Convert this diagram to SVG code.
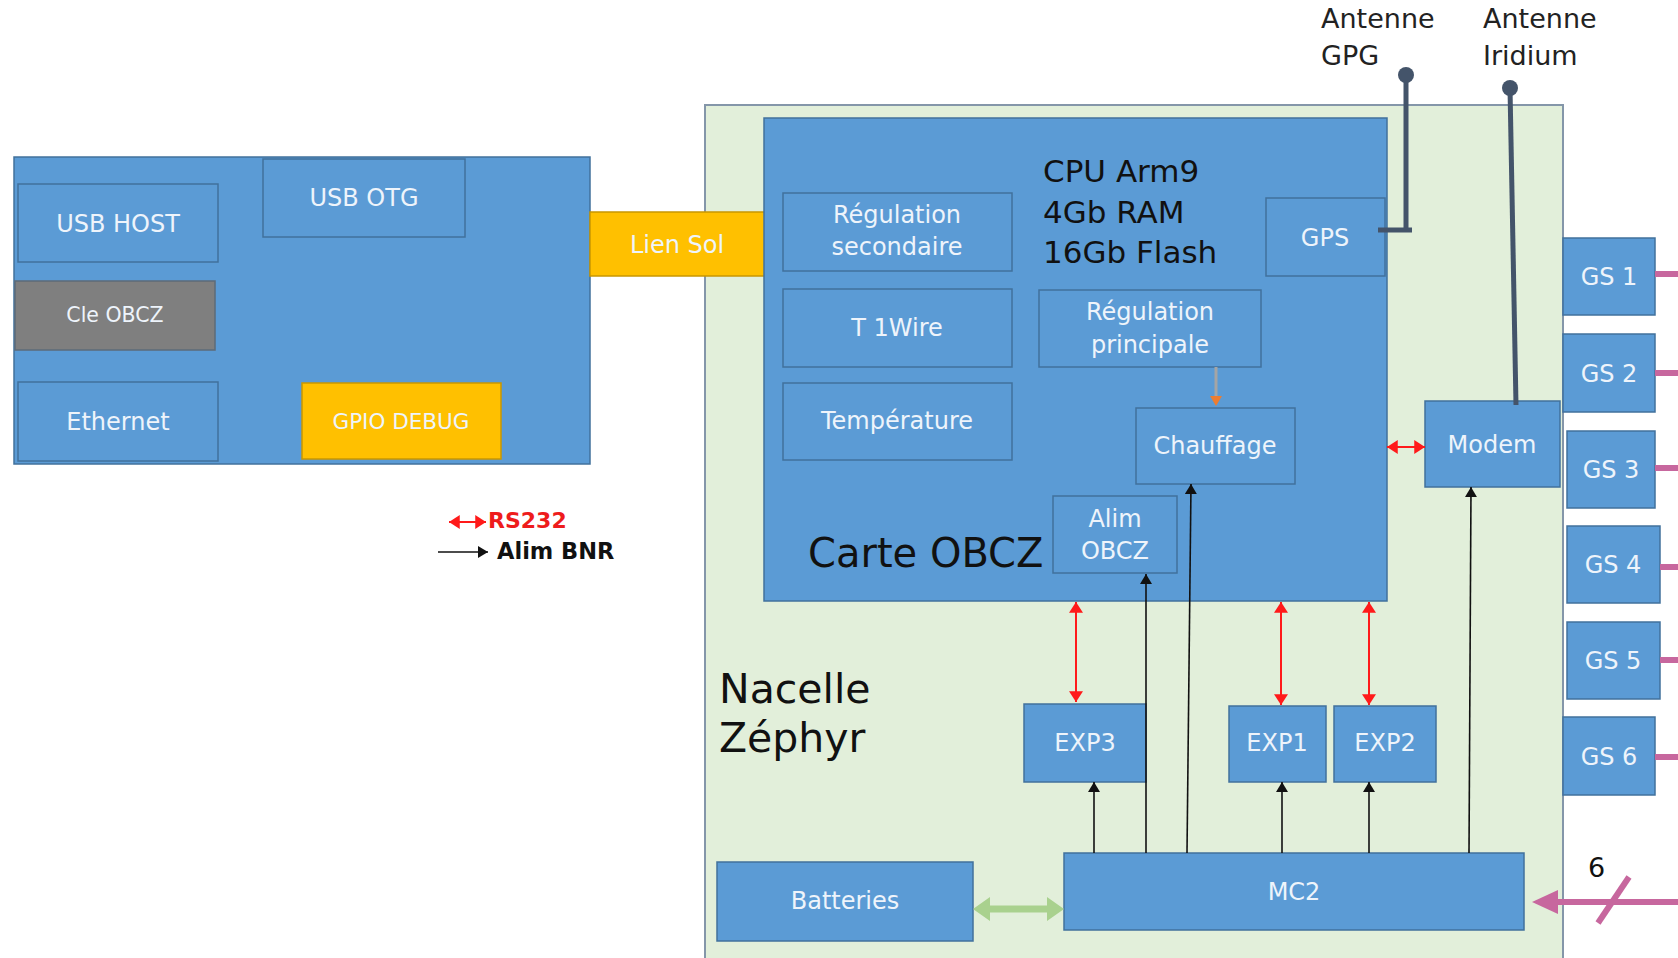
<svg xmlns="http://www.w3.org/2000/svg" width="1678" height="958" viewBox="0 0 1678 958">
  <defs>
    <style>
      .box { fill: #5b9bd5; stroke: #41719c; stroke-width: 1.5; }
      .yel { fill: #ffc000; stroke: #c99700; stroke-width: 1.5; }
      .gry { fill: #7f7f7f; stroke: #5d6b78; stroke-width: 1.5; }
      .lbl { font-family: "DejaVu Sans", "Liberation Sans", sans-serif; font-size: 24px; fill: #eef4fb; text-anchor: middle; }
      .dark { font-family: "DejaVu Sans", "Liberation Sans", sans-serif; fill: #111111; }
      .red { stroke: #ff1a1a; stroke-width: 2; fill: none; }
      .blk { stroke: #111111; stroke-width: 1.6; fill: none; }
      .ant { stroke: #44546a; stroke-width: 5; fill: none; }
      .pink { stroke: #c7679e; stroke-width: 6; fill: none; }
    </style>
    <marker id="hRed" viewBox="0 0 10 13" refX="10" refY="6.5" markerWidth="11" markerHeight="14" markerUnits="userSpaceOnUse" orient="auto-start-reverse">
      <path d="M0,0 L10,6.5 L0,13 z" fill="#ff1a1a"/>
    </marker>
    <marker id="hBlk" viewBox="0 0 10 12" refX="10" refY="6" markerWidth="10" markerHeight="12" markerUnits="userSpaceOnUse" orient="auto">
      <path d="M0,0 L10,6 L0,12 z" fill="#111111"/>
    </marker>
  </defs>

  <rect width="1678" height="958" fill="#ffffff"/>

  <!-- ground board -->
  <g id="board">
    <rect class="box" x="14" y="157" width="576" height="307"/>
  </g>
  <g id="usb-host">
    <rect class="box" x="18" y="184" width="200" height="78"/>
    <text class="lbl" x="118" y="232">USB HOST</text>
  </g>
  <g id="usb-otg">
    <rect class="box" x="263" y="159" width="202" height="78"/>
    <text class="lbl" x="364" y="206">USB OTG</text>
  </g>
  <g id="cle-obcz">
    <rect class="gry" x="15" y="281" width="200" height="69"/>
    <text class="lbl" x="115" y="322" style="font-size:20.5px">Cle OBCZ</text>
  </g>
  <g id="ethernet">
    <rect class="box" x="18" y="382" width="200" height="79"/>
    <text class="lbl" x="118" y="430">Ethernet</text>
  </g>
  <g id="gpio-debug">
    <rect class="yel" x="302" y="383" width="199" height="76"/>
    <text class="lbl" x="401" y="429" style="font-size:21.5px">GPIO DEBUG</text>
  </g>

  <!-- legend -->
  <g id="legend">
    <line class="red" x1="449" y1="522" x2="486" y2="522" marker-start="url(#hRed)" marker-end="url(#hRed)"/>
    <text class="dark" x="488" y="528" style="font-size:22px;font-weight:bold;fill:#ee1c1c">RS232</text>
    <line class="blk" x1="438" y1="552" x2="488" y2="552" marker-end="url(#hBlk)"/>
    <text class="dark" x="497" y="559" style="font-size:22.5px;font-weight:bold">Alim BNR</text>
  </g>

  <!-- gondola -->
  <g id="nacelle">
    <rect x="705" y="105" width="858" height="870" fill="#e2efda" stroke="#8496a9" stroke-width="2"/>
    <text class="dark" x="719" y="703" style="font-size:41px">Nacelle</text>
    <text class="dark" x="719" y="752" style="font-size:41px">Zéphyr</text>
  </g>

  <!-- ground link, drawn over the gondola edge -->
  <g id="lien-sol">
    <rect class="yel" x="590" y="212" width="175" height="64"/>
    <text class="lbl" x="677" y="253">Lien Sol</text>
  </g>

  <!-- OBCZ card -->
  <g id="carte-obcz">
    <rect class="box" x="764" y="118" width="623" height="483"/>
    <text class="dark" x="808" y="567" style="font-size:40px">Carte OBCZ</text>
    <text class="dark" x="1043" y="182" style="font-size:31px">CPU Arm9</text>
    <text class="dark" x="1043" y="223" style="font-size:31px">4Gb RAM</text>
    <text class="dark" x="1043" y="263" style="font-size:31px">16Gb Flash</text>
  </g>
  <g id="regulation-secondaire">
    <rect class="box" x="783" y="193" width="229" height="78"/>
    <text class="lbl" x="897" y="223">Régulation</text>
    <text class="lbl" x="897" y="255">secondaire</text>
  </g>
  <g id="t-1wire">
    <rect class="box" x="783" y="289" width="229" height="78"/>
    <text class="lbl" x="897" y="336">T 1Wire</text>
  </g>
  <g id="temperature">
    <rect class="box" x="783" y="383" width="229" height="77"/>
    <text class="lbl" x="897" y="429">Température</text>
  </g>
  <g id="regulation-principale">
    <rect class="box" x="1039" y="290" width="222" height="77"/>
    <text class="lbl" x="1150" y="320">Régulation</text>
    <text class="lbl" x="1150" y="353">principale</text>
  </g>
  <g id="gps">
    <rect class="box" x="1266" y="198" width="119" height="78"/>
    <text class="lbl" x="1325" y="246">GPS</text>
  </g>
  <g id="chauffage">
    <rect class="box" x="1136" y="408" width="159" height="76"/>
    <text class="lbl" x="1215" y="454">Chauffage</text>
  </g>
  <g id="alim-obcz">
    <rect class="box" x="1053" y="496" width="124" height="77"/>
    <text class="lbl" x="1115" y="527">Alim</text>
    <text class="lbl" x="1115" y="559">OBCZ</text>
  </g>
  <g id="modem">
    <rect class="box" x="1425" y="401" width="135" height="86"/>
    <text class="lbl" x="1492" y="453">Modem</text>
  </g>

  <!-- experiments, power and batteries -->
  <g id="exp3">
    <rect class="box" x="1024" y="704" width="122" height="78"/>
    <text class="lbl" x="1085" y="751">EXP3</text>
  </g>
  <g id="exp1">
    <rect class="box" x="1229" y="706" width="97" height="76"/>
    <text class="lbl" x="1277" y="751">EXP1</text>
  </g>
  <g id="exp2">
    <rect class="box" x="1334" y="706" width="102" height="76"/>
    <text class="lbl" x="1385" y="751">EXP2</text>
  </g>
  <g id="batteries">
    <rect class="box" x="717" y="862" width="256" height="79"/>
    <text class="lbl" x="845" y="909">Batteries</text>
  </g>
  <g id="mc2">
    <rect class="box" x="1064" y="853" width="460" height="77"/>
    <text class="lbl" x="1294" y="900">MC2</text>
  </g>

  <!-- ground stations -->
  <g id="gs1">
    <rect class="box" x="1563" y="238" width="92" height="77"/>
    <text class="lbl" x="1609" y="285">GS 1</text>
  </g>
  <g id="gs2">
    <rect class="box" x="1563" y="334" width="92" height="78"/>
    <text class="lbl" x="1609" y="382">GS 2</text>
  </g>
  <g id="gs3">
    <rect class="box" x="1567" y="431" width="88" height="77"/>
    <text class="lbl" x="1611" y="478">GS 3</text>
  </g>
  <g id="gs4">
    <rect class="box" x="1567" y="526" width="93" height="77"/>
    <text class="lbl" x="1613" y="573">GS 4</text>
  </g>
  <g id="gs5">
    <rect class="box" x="1567" y="622" width="93" height="77"/>
    <text class="lbl" x="1613" y="669">GS 5</text>
  </g>
  <g id="gs6">
    <rect class="box" x="1563" y="717" width="92" height="78"/>
    <text class="lbl" x="1609" y="765">GS 6</text>
  </g>

  <!-- antennas -->
  <g id="antenne-gpg">
    <text class="dark" x="1321" y="28" style="font-size:27px;fill:#222">Antenne</text>
    <text class="dark" x="1321" y="65" style="font-size:27px;fill:#222">GPG</text>
    <circle cx="1406" cy="75" r="8" fill="#44546a"/>
    <path class="ant" d="M1406,75 V230 M1378,230 H1412"/>
  </g>
  <g id="antenne-iridium">
    <text class="dark" x="1483" y="28" style="font-size:27px;fill:#222">Antenne</text>
    <text class="dark" x="1483" y="65" style="font-size:27px;fill:#222">Iridium</text>
    <circle cx="1510" cy="88" r="8" fill="#44546a"/>
    <path class="ant" d="M1510,88 L1516,405"/>
  </g>

  <!-- connectors -->
  <g id="connectors">
    <!-- RS232 links -->
    <line class="red" x1="1387" y1="447" x2="1425" y2="447" marker-start="url(#hRed)" marker-end="url(#hRed)"/>
    <line class="red" x1="1076" y1="602" x2="1076" y2="702" marker-start="url(#hRed)" marker-end="url(#hRed)"/>
    <line class="red" x1="1281" y1="602" x2="1281" y2="705" marker-start="url(#hRed)" marker-end="url(#hRed)"/>
    <line class="red" x1="1369" y1="602" x2="1369" y2="705" marker-start="url(#hRed)" marker-end="url(#hRed)"/>
    <!-- power distribution from MC2 -->
    <line class="blk" x1="1094" y1="853" x2="1094" y2="782" marker-end="url(#hBlk)"/>
    <line class="blk" x1="1146" y1="853" x2="1146" y2="574" marker-end="url(#hBlk)"/>
    <line class="blk" x1="1187" y1="853" x2="1191" y2="484" marker-end="url(#hBlk)"/>
    <line class="blk" x1="1282" y1="853" x2="1282" y2="782" marker-end="url(#hBlk)"/>
    <line class="blk" x1="1369" y1="853" x2="1369" y2="782" marker-end="url(#hBlk)"/>
    <line class="blk" x1="1469" y1="853" x2="1471" y2="487" marker-end="url(#hBlk)"/>
    <!-- regulation to heating -->
    <line x1="1216" y1="367" x2="1216" y2="398" stroke="#a5a5a5" stroke-width="3"/>
    <path d="M1210,396 L1222,396 L1216,406 z" fill="#ed7d31"/>
    <!-- batteries to MC2 -->
    <line x1="985" y1="909" x2="1052" y2="909" stroke="#a9d18e" stroke-width="7"/>
    <path d="M973,909 L990,897 L990,921 z M1064,909 L1047,897 L1047,921 z" fill="#a9d18e"/>
    <!-- ground station links -->
    <path class="pink" d="M1655,274 H1678 M1655,373 H1678 M1655,468 H1678 M1660,567 H1678 M1660,660 H1678 M1655,757 H1678"/>
    <line class="pink" x1="1678" y1="902" x2="1552" y2="902"/>
    <path d="M1532,902 L1558,890 L1558,914 z" fill="#c7679e"/>
    <line class="pink" x1="1598" y1="923" x2="1629" y2="877" stroke-width="5"/>
    <text class="dark" x="1588" y="877" style="font-size:27px">6</text>
  </g>
</svg>
